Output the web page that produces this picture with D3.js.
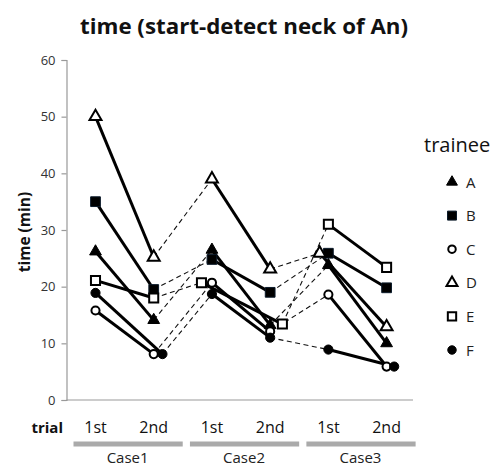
<!DOCTYPE html>
<html><head><meta charset="utf-8">
<script src="https://cdn.jsdelivr.net/npm/d3@7"></script>
<style>body{margin:0;background:#fff}svg{display:block}</style>
</head><body>
<script>
const trials = ["1st","2nd","1st","2nd","1st","2nd"];
const cases = ["Case1","Case2","Case3"];
const yTicks = [0,10,20,30,40,50,60];
const trainees = ["A","B","C","D","E","F"];
const valA = [26.2, 14.1, 26.5, 13.2, 23.8, 10.0];
const valB = [35.0, 19.5, 24.8, 19.0, 25.9, 19.8];
const valC = [15.8, 8.1, 20.7, 12.1, 18.6, 5.9];
const valD = [50.0, 25.2, 39.0, 23.1, 25.9, 12.9];
const valE = [21.1, 18.0, 20.7, 13.4, 31.0, 23.4];
const valF = [18.9, 8.1, 18.7, 11.0, 8.9, 5.9];
// small horizontal nudges (in trial units) used in the original to separate overlapping markers
const nudgeA = [0,0,0,0,0,0];
const nudgeB = [0,0,0,0,0,0];
const nudgeC = [0,0,0,0,0,0];
const nudgeD = [0,0,0,0,-0.15,0];
const nudgeE = [0,0,-0.18,0.21,0,0];
const nudgeF = [0,0.15,0,0,0,0.13];

const vals = [valA,valB,valC,valD,valE,valF];
const nudges = [nudgeA,nudgeB,nudgeC,nudgeD,nudgeE,nudgeF];
const shapes = ["triangle","square","circle","triangle","square","circle"];
const filled = [true,true,false,false,false,true];

const W=503,H=468;
const svg=d3.select("body").append("svg").attr("width",W).attr("height",H);
const x=d3.scaleLinear().domain([0,5]).range([95.5,386.6]);
const y=d3.scaleLinear().domain([0,60]).range([400,60]);
const axL=66.5, axR=413;

// title
svg.append("text").attr("x",80).attr("y",34)
  .attr("font-family","Open Sans").attr("font-weight","bold").attr("font-size",21.5)
  .attr("textLength",328).attr("lengthAdjust","spacingAndGlyphs")
  .attr("fill","#111").text("time (start-detect neck of An)");

// y axis
const yAxis=d3.axisLeft(y).tickValues(yTicks).tickSize(5).tickPadding(6);
const ga=svg.append("g").attr("transform",`translate(${axL},0)`).call(yAxis);
ga.select(".domain").attr("stroke","#999").attr("stroke-width",1.2);
ga.selectAll(".tick line").attr("stroke","#999").attr("stroke-width",1.2);
ga.selectAll(".tick text").attr("font-family","Open Sans").attr("font-size",13).attr("fill","#333");
// x axis line
svg.append("line").attr("x1",axL).attr("x2",axR).attr("y1",y(0)).attr("y2",y(0))
  .attr("stroke","#999").attr("stroke-width",1.2);

svg.append("text").attr("transform",`translate(29.5,232) rotate(-90)`).attr("text-anchor","middle")
  .attr("font-family","Open Sans").attr("font-weight","bold").attr("font-size",15.5)
  .attr("fill","#111").text("time (min)");

// trial labels
svg.append("text").attr("x",63).attr("y",433).attr("text-anchor","end")
  .attr("font-family","Open Sans").attr("font-weight","bold").attr("font-size",15)
  .attr("fill","#111").text("trial");
svg.selectAll(".trl").data(trials).join("text").attr("class","trl")
  .attr("x",(d,i)=>x(i)).attr("y",433).attr("text-anchor","middle")
  .attr("font-family","Open Sans").attr("font-size",16).attr("fill","#111").text(d=>d);
// case bars
svg.selectAll(".cbar").data(cases).join("rect").attr("class","cbar")
  .attr("x",(d,i)=>x(i*2)-22).attr("width",(d,i)=>x(i*2+1)-x(i*2)+51)
  .attr("y",441.5).attr("height",5).attr("fill","#aaa");
svg.selectAll(".clab").data(cases).join("text").attr("class","clab")
  .attr("x",(d,i)=>(x(i*2)+x(i*2+1))/2+3).attr("y",463).attr("text-anchor","middle")
  .attr("font-family","Open Sans").attr("font-size",15).attr("fill","#222").text(d=>d);

// lines
const px=(s,i)=>x(i+nudges[s][i]);
const g=svg.append("g");
vals.forEach((v,s)=>{
  [[1,2],[3,4]].forEach(([a,b])=>{
    g.append("line").attr("x1",px(s,a)).attr("y1",y(v[a])).attr("x2",px(s,b)).attr("y2",y(v[b]))
      .attr("stroke","#111").attr("stroke-width",1.1).attr("stroke-dasharray","5,3.5");
  });
});
vals.forEach((v,s)=>{
  [[0,1],[2,3],[4,5]].forEach(([a,b])=>{
    g.append("line").attr("x1",px(s,a)).attr("y1",y(v[a])).attr("x2",px(s,b)).attr("y2",y(v[b]))
      .attr("stroke","#000").attr("stroke-width",3);
  });
});

const sizes={triangle:[62,60],square:[82,95],circle:[52,66]}; // [open, filled]
function marker(sel,shape,fill,k){
  const sz=sizes[shape][fill?1:0]*k;
  const sym=shape==="triangle"?d3.symbolTriangle:shape==="square"?d3.symbolSquare:d3.symbolCircle;
  sel.append("path").attr("d",d3.symbol(sym,sz)()).attr("fill",fill?"#000":"#fff")
    .attr("stroke",fill&&shape==="square"?"#0b1a2a":"#000").attr("stroke-width",fill?1:2);
}
vals.forEach((v,s)=>{
  v.forEach((d,i)=>{
    const m=svg.append("g").attr("transform",`translate(${px(s,i)},${y(d)})`);
    marker(m,shapes[s],filled[s],1);
  });
});

// legend
svg.append("text").attr("x",424).attr("y",152)
  .attr("font-family","Open Sans").attr("font-size",20).attr("fill","#111").text("trainee");
const leg=svg.selectAll(".leg").data(trainees).join("g").attr("class","leg")
  .attr("transform",(d,i)=>`translate(452,${182+i*33.6})`);
leg.each(function(d,i){ marker(d3.select(this),shapes[i],filled[i],0.85); });
leg.append("text").attr("x",14).attr("y",5.5).attr("font-family","Open Sans")
  .attr("font-size",15).attr("fill","#222").text(d=>d);
</script>
</body></html>
